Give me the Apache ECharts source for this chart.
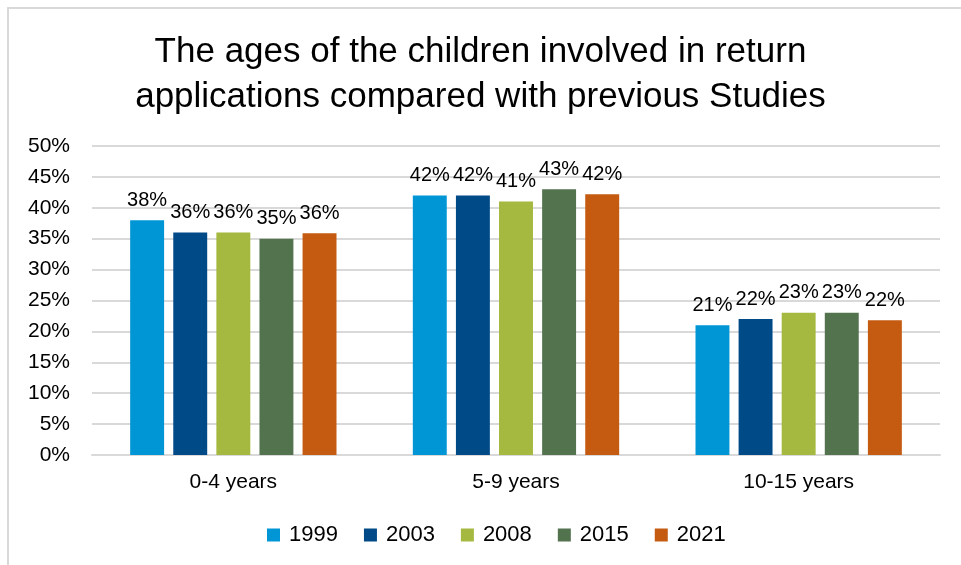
<!DOCTYPE html>
<html><head><meta charset="utf-8">
<script src="https://cdn.jsdelivr.net/npm/echarts@6/dist/echarts.min.js"></script>
<style>html,body{margin:0;padding:0;background:#fff}#c{width:961px;height:565px}</style>
</head><body><div id="c"></div>
<script>
var categories = ['0-4 years', '5-9 years', '10-15 years'];
var seriesNames = ['1999', '2003', '2008', '2015', '2021'];
var v1999 = [38, 42, 21];
var v2003 = [36, 42, 22];
var v2008 = [36, 41, 23];
var v2015 = [35, 43, 23];
var v2021 = [35.9, 42.2, 21.8];
var yTicks = [0, 5, 10, 15, 20, 25, 30, 35, 40, 45, 50];
var colors = ['#0096d6', '#004a87', '#a5b83f', '#53734f', '#c55a11'];
var allValues = [v1999, v2003, v2008, v2015, v2021];
var font = 'Liberation Sans';
var chart = echarts.init(document.getElementById('c'));
chart.setOption({
  animation: false,
  textStyle: {fontFamily: font},
  graphic: [{type: 'rect', shape: {x: 8, y: 8, width: 1200, height: 1000}, style: {fill: 'none', stroke: '#d9d9d9', lineWidth: 2}, silent: true}],
  title: {
    text: 'The ages of the children involved in return\napplications compared with previous Studies',
    left: 'center', top: 25,
    textStyle: {fontFamily: font, fontSize: 35, fontWeight: 'normal', color: '#000', lineHeight: 45}
  },
  legend: {
    bottom: 14, left: 262, itemWidth: 13, itemHeight: 13, itemGap: 26,
    icon: 'rect',
    textStyle: {fontFamily: font, fontSize: 22, color: '#000', padding: [0, 0, 0, 4]},
    data: seriesNames
  },
  grid: {left: 92, right: 21, top: 146, bottom: 110, containLabel: false},
  xAxis: {
    type: 'category', data: categories,
    axisLine: {lineStyle: {color: '#d9d9d9', width: 2}},
    axisTick: {show: false},
    axisLabel: {fontFamily: font, fontSize: 21, color: '#000', margin: 17}
  },
  yAxis: {
    type: 'value', min: yTicks[0], max: yTicks[yTicks.length - 1], interval: 5,
    axisLine: {show: false}, axisTick: {show: false},
    splitLine: {lineStyle: {color: '#d9d9d9', width: 2}},
    axisLabel: {fontFamily: font, fontSize: 21, color: '#000', margin: 22, formatter: '{value}%'}
  },
  series: seriesNames.map(function (n, i) {
    return {
      name: n, type: 'bar', data: allValues[i],
      barGap: '27%', barCategoryGap: '27%',
      itemStyle: {color: colors[i]},
      label: {show: true, position: 'top', distance: 10, fontFamily: font, fontSize: 20, color: '#000',
        formatter: function (p) { return Math.round(p.value) + '%'; }}
    };
  })
});
</script></body></html>
